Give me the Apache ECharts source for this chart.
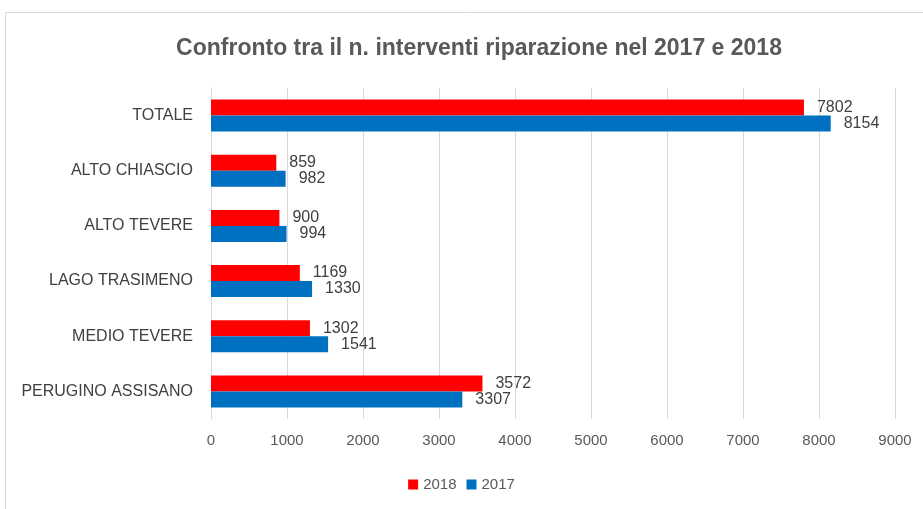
<!DOCTYPE html>
<html>
<head>
<meta charset="utf-8">
<script src="https://cdn.jsdelivr.net/npm/echarts@6/dist/echarts.min.js"></script>
<style>
  html, body { margin: 0; padding: 0; background: #fff; }
  #chart { width: 923px; height: 509px; }
</style>
</head>
<body>
<div id="chart"></div>
<script>
const categories = ['PERUGINO ASSISANO', 'MEDIO TEVERE', 'LAGO TRASIMENO', 'ALTO TEVERE', 'ALTO CHIASCIO', 'TOTALE']
const values2018 = [3572, 1302, 1169, 900, 859, 7802]
const values2017 = [3307, 1541, 1330, 994, 982, 8154]
const seriesNames = ['2018', '2017']

const myChart = echarts.init(document.getElementById('chart'))

const font = '"Liberation Sans", sans-serif'

const option = {
  backgroundColor: '#fff',
  textStyle: { fontFamily: font },
  graphic: [
    {
      type: 'rect',
      shape: { x: 5.5, y: 12.5, width: 940, height: 520 },
      style: { fill: 'none', stroke: '#d9d9d9', lineWidth: 1 }
    }
  ],
  title: {
    text: 'Confronto tra il n. interventi riparazione nel 2017 e 2018',
    left: 474,
    top: 32,
    textAlign: 'center',
    textStyle: { fontFamily: font, fontSize: 23, fontWeight: 'bold', color: '#595959' }
  },
  legend: {
    data: seriesNames,
    bottom: 12,
    left: 'center',
    itemWidth: 10,
    itemHeight: 10,
    itemGap: 10,
    icon: 'rect',
    textStyle: { fontFamily: font, fontSize: 15, color: '#595959' }
  },
  grid: { left: 211, right: 28, top: 88, bottom: 90 },
  xAxis: {
    type: 'value',
    min: 0,
    max: 9000,
    interval: 1000,
    axisLine: { show: false },
    axisTick: { show: false },
    axisLabel: { fontFamily: font, fontSize: 15, color: '#595959', margin: 14, formatter: v => String(v) },
    splitLine: { lineStyle: { color: '#d9d9d9' } }
  },
  yAxis: {
    type: 'category',
    data: categories,
    axisLine: { lineStyle: { color: '#d9d9d9' } },
    axisTick: { show: false },
    axisLabel: { fontFamily: font, fontSize: 16, color: '#404040', margin: 18 }
  },
  series: [
    {
      name: seriesNames[0],
      type: 'bar',
      data: values2018,
      barGap: '0%',
      barCategoryGap: '42%',
      itemStyle: { color: '#ff0000' },
      label: { show: true, position: 'right', fontFamily: font, fontSize: 16, color: '#404040', distance: 13 }
    },
    {
      name: seriesNames[1],
      type: 'bar',
      data: values2017,
      barGap: '0%',
      barCategoryGap: '42%',
      itemStyle: { color: '#0070c0' },
      label: { show: true, position: 'right', fontFamily: font, fontSize: 16, color: '#404040', distance: 13 }
    }
  ]
}
option && myChart.setOption(option)
</script>
</body>
</html>
